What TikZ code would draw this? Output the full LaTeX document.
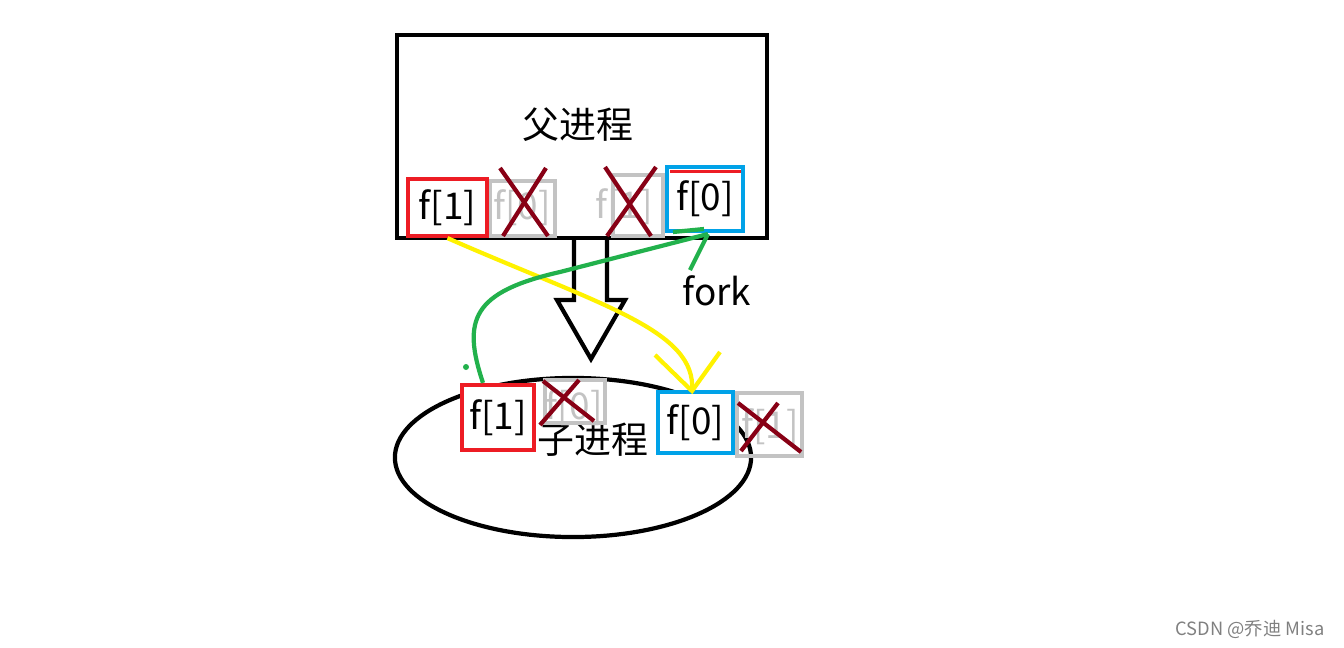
\documentclass[tikz,border=0pt]{standalone}
\usepackage{fontspec}
\setmainfont{Noto Sans CJK SC}
\usetikzlibrary{positioning,shapes.geometric}
\definecolor{pipered}{RGB}{237,28,36}
\definecolor{pipeblue}{RGB}{0,162,232}
\definecolor{pipegray}{RGB}{195,195,195}
\definecolor{crossred}{RGB}{136,0,21}
\definecolor{pipeyellow}{RGB}{255,242,0}
\definecolor{pipegreen}{RGB}{34,177,76}
\tikzset{
  fdend/.style={
    draw,
    line width=1.2pt,
    inner sep=0pt
  },
  readend/.style={
    fdend,
    draw=pipered,
    font=\fontsize{10.5}{12}\selectfont
  },
  writeend/.style={
    fdend,
    draw=pipeblue,
    font=\fontsize{10.5}{12}\selectfont
  },
  ghost/.style={
    fdend,
    draw=pipegray
  },
  ghosttext/.style={
    text=pipegray,
    inner sep=0pt,
    font=\fontsize{10.5}{12}\selectfont
  },
  cross/.style={
    draw=crossred,
    line width=1.2pt
  },
  label/.style={
    inner sep=0pt,
    font=\fontsize{10.5}{12}\selectfont
  }
}

\begin{document}
\begin{tikzpicture}[x=0.01cm,y=-0.01cm]
    \useasboundingbox (0,0) rectangle (1344,648);

    % parent process
    \draw[line width=1.2pt] (397,35) rectangle (767,238);
    \node[label] (parent) at (578,125) {父进程};

    \node[ghosttext] (pt0) at (522,208) {f[0]};
    \node[ghost, minimum width=0.65cm, minimum height=0.55cm] (pg0) at (522.5,208.5) {};
    \node[ghosttext] (pt1) at (624,207) {f[1]};
    \node[ghost, minimum width=0.50cm, minimum height=0.61cm] (pg1) at (638,205.5) {};
    \node[readend, minimum width=0.79cm, minimum height=0.57cm] (pr) at (447.5,207.5) {f[1]};
    \node[writeend, minimum width=0.76cm, minimum height=0.64cm] (pw) at (705,199) {f[0]};
    \draw[pipered, line width=1pt] (670,171.5) -- (741,171.5);

    \coordinate (x1a) at (500,168); \coordinate (x1b) at (548,236);
    \coordinate (x1c) at (546,168); \coordinate (x1d) at (503,236);
    \draw[cross] (x1a) -- (x1b);
    \draw[cross] (x1c) -- (x1d);
    \coordinate (x2a) at (605,167); \coordinate (x2b) at (651,236);
    \coordinate (x2c) at (656,167); \coordinate (x2d) at (607,236);
    \draw[cross] (x2a) -- (x2b);
    \draw[cross] (x2c) -- (x2d);

    % fork arrow
    \draw[line width=1.2pt] (574,238) -- (574,300) -- (557,300) -- (591,359)
        -- (625,300) -- (607,300) -- (607,238);

    % child process
    \node[draw, ellipse, line width=1.2pt, minimum width=3.56cm, minimum height=1.59cm] (child) at (573,457.5) {};
    \node[label] (childtext) at (593,440) {子进程};

    \node[ghosttext] (ct0) at (574,408) {f[0]};
    \node[ghost, minimum width=0.60cm, minimum height=0.43cm] (cg0) at (575,401.5) {};
    \node[ghosttext] (ct1) at (770,427) {f[1]};
    \node[ghost, minimum width=0.65cm, minimum height=0.63cm] (cg1) at (769.5,424.5) {};
    \node[readend, fill=white, minimum width=0.72cm, minimum height=0.65cm] (cr) at (498,417.5) {f[1]};
    \node[writeend, fill=white, minimum width=0.75cm, minimum height=0.61cm] (cw) at (695.5,422.5) {f[0]};

    \coordinate (x3a) at (543,381); \coordinate (x3b) at (594,421);
    \coordinate (x3c) at (579,380); \coordinate (x3d) at (540,425);
    \draw[cross] (x3a) -- (x3b);
    \draw[cross] (x3c) -- (x3d);
    \coordinate (x4a) at (738,403); \coordinate (x4b) at (801,452);
    \coordinate (x4c) at (778,403); \coordinate (x4d) at (741,451);
    \draw[cross] (x4a) -- (x4b);
    \draw[cross] (x4c) -- (x4d);

    % read end goes to child
    \coordinate (ytip) at (692,391);
    \coordinate (yl) at (655,355);
    \coordinate (yr) at (720,352);
    \draw[pipeyellow, line width=1.2pt] (pr.south) .. controls (600,305) and (697,330) .. (ytip);
    \draw[pipeyellow, line width=1.2pt] (yl) -- (ytip) -- (yr);

    % write end goes to parent
    \coordinate (gtip) at (708,234);
    \coordinate (gbar) at (673,232);
    \coordinate (gdot) at (466,367);
    \draw[pipegreen, line width=1.2pt] ([xshift=-0.15cm]cr.north) .. controls (462,320) and (472,292) .. (560,272) -- (gtip);
    \draw[pipegreen, line width=1.2pt] (gbar) -- (704,229);
    \fill[pipegreen] (gdot) circle (3);

    \node[label] (fork) at (717,291) {fork};
    \draw[pipegreen, line width=1.2pt] (690,270) -- (gtip);

    \node[text=gray, inner sep=0pt, font=\fontsize{5.2}{6}\selectfont] (mark) at (1250,629) {CSDN @乔迪 Misa};
\end{tikzpicture}
\end{document}
